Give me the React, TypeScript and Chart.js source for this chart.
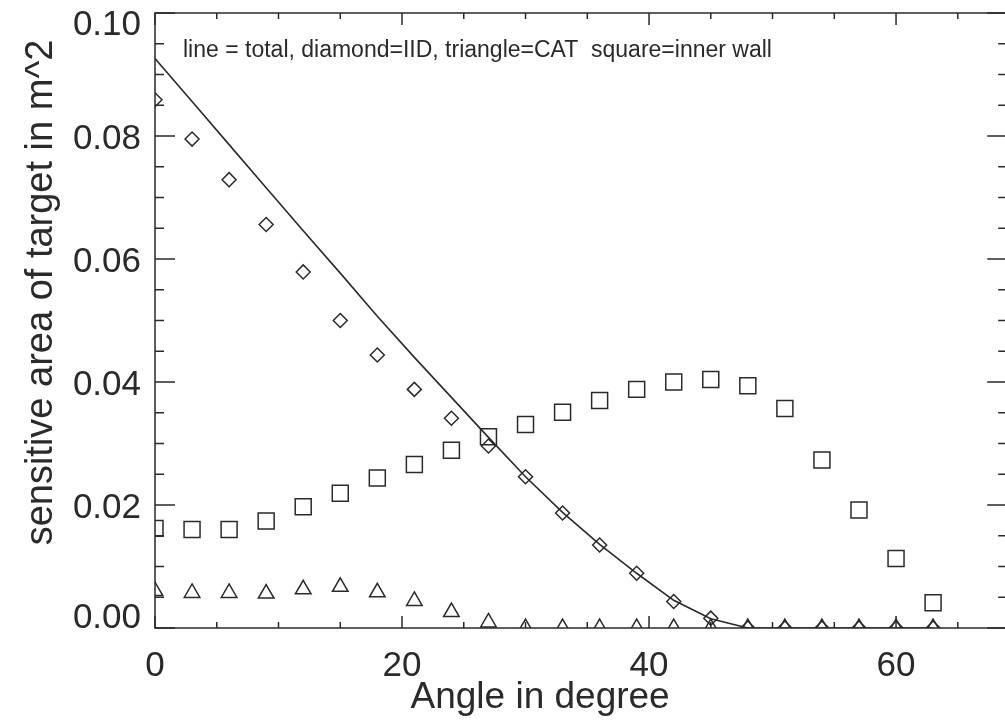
import React, { useEffect, useRef } from 'react';
import { Chart, registerables } from 'chart.js';

Chart.register(...registerables);

// ---------- data ----------
const angles = [0, 3, 6, 9, 12, 15, 18, 21, 24, 27, 30, 33, 36, 39, 42, 45, 48, 51, 54, 57, 60, 63];
const totalLine = [0.0926, 0.0856, 0.0786, 0.0716, 0.0646, 0.0577, 0.0507, 0.0440, 0.0375, 0.0310, 0.0246, 0.0188, 0.0136, 0.0089, 0.0045, 0.0015, 0, 0, 0, 0, 0, 0];
const iidDiamond = [0.0859, 0.0795, 0.0729, 0.0656, 0.0579, 0.0500, 0.0444, 0.0388, 0.0341, 0.0296, 0.0246, 0.0187, 0.0135, 0.0089, 0.0043, 0.0016, 0, 0, 0, 0, 0, 0];
const catTriangle = [0.0060, 0.0057, 0.0057, 0.0056, 0.0063, 0.0067, 0.0058, 0.0044, 0.0026, 0.0009, 0, 0, 0, 0, 0, 0, 0, 0, 0, 0, 0, 0];
const innerWallSquare = [0.0162, 0.0160, 0.0160, 0.0174, 0.0197, 0.0219, 0.0244, 0.0266, 0.0289, 0.0311, 0.0331, 0.0351, 0.0370, 0.0388, 0.0400, 0.0404, 0.0394, 0.0357, 0.0273, 0.0192, 0.0113, 0.0041];

const xMin = 0;
const xMax = 69;
const yMin = 0;
const yMax = 0.1;
const xTickLabels = [0, 20, 40, 60];
const yTickLabels = [0.0, 0.02, 0.04, 0.06, 0.08, 0.10];
const xMinorStep = 5;
const yMinorStep = 0.005;

const xTitle = 'Angle in degree';
const yTitle = 'sensitive area of target in m^2';
const noteText = 'line = total, diamond=IID, triangle=CAT  square=inner wall';

// ---------- styling ----------
const INK = '#2a2a2a';
const FONT = '"Liberation Sans", Arial, Helvetica, sans-serif';

const toPoints = (ys: number[]) => angles.map((a, i) => ({ x: a, y: ys[i] }));

const axesPlugin = {
  id: 'idlAxes',
  beforeDraw(chart: any) {
    const { ctx } = chart;
    ctx.save();
    ctx.fillStyle = '#ffffff';
    ctx.fillRect(0, 0, chart.width, chart.height);
    ctx.restore();
  },
  afterDraw(chart: any) {
    const { ctx, chartArea } = chart;
    const { left, right, top, bottom } = chartArea;
    const xs = chart.scales.x;
    const ys = chart.scales.y;
    ctx.save();
    ctx.strokeStyle = INK;
    ctx.fillStyle = INK;
    ctx.lineWidth = 1.5;
    ctx.strokeRect(left, top, right - left, bottom - top);

    // x ticks (bottom + top), inward
    const nx = Math.round((xMax - xMin) / xMinorStep);
    for (let i = 0; i <= nx; i++) {
      const v = xMin + i * xMinorStep;
      const px = xs.getPixelForValue(v);
      const major = xTickLabels.includes(v);
      const len = major ? 12 : 6;
      ctx.beginPath();
      ctx.moveTo(px, bottom);
      ctx.lineTo(px, bottom - len);
      ctx.moveTo(px, top);
      ctx.lineTo(px, top + len);
      ctx.stroke();
    }
    // y ticks (left + right), inward
    const ny = Math.round((yMax - yMin) / yMinorStep);
    for (let i = 0; i <= ny; i++) {
      const v = yMin + i * yMinorStep;
      const py = ys.getPixelForValue(v);
      const major = i % 4 === 0;
      const len = major ? 20 : 9;
      ctx.beginPath();
      ctx.moveTo(left, py);
      ctx.lineTo(left + len, py);
      ctx.moveTo(right, py);
      ctx.lineTo(right - len, py);
      ctx.stroke();
    }

    // x tick labels
    ctx.font = `35px ${FONT}`;
    ctx.textAlign = 'center';
    ctx.textBaseline = 'alphabetic';
    xTickLabels.forEach((v) => {
      ctx.fillText(String(v), xs.getPixelForValue(v), bottom + 48);
    });

    // y tick labels
    const cap = 25;
    ctx.textAlign = 'right';
    yTickLabels.forEach((v) => {
      const py = ys.getPixelForValue(v);
      const base = Math.min(Math.max(py + cap / 2, top + cap - 3), bottom);
      ctx.fillText(v.toFixed(2), left - 14, base);
    });

    // x title
    ctx.font = `37px ${FONT}`;
    ctx.textAlign = 'center';
    ctx.fillText(xTitle, (left + right) / 2 - 41, bottom + 80);

    // y title
    ctx.save();
    ctx.font = `38px ${FONT}`;
    ctx.translate(52, (top + bottom) / 2 - 28);
    ctx.rotate(-Math.PI / 2);
    ctx.textAlign = 'center';
    ctx.fillText(yTitle, 0, 0);
    ctx.restore();

    // annotation text inside plot
    ctx.font = `23px ${FONT}`;
    ctx.textAlign = 'left';
    ctx.fillText(noteText, left + 28, top + 44);

    ctx.restore();
  },
};

export default function App() {
  const canvasRef = useRef<HTMLCanvasElement | null>(null);

  useEffect(() => {
    document.body.style.margin = '0';
    const canvas = canvasRef.current;
    if (!canvas) return;
    const markerCommon = {
      showLine: false,
      borderColor: INK,
      backgroundColor: 'rgba(0,0,0,0)',
      pointBackgroundColor: 'rgba(0,0,0,0)',
      pointBorderColor: INK,
      pointBorderWidth: 1.5,
      clip: 0,
    };
    const chart = new Chart(canvas, {
      type: 'scatter',
      data: {
        datasets: [
          {
            label: 'total',
            data: toPoints(totalLine),
            showLine: true,
            borderColor: INK,
            borderWidth: 1.6,
            pointRadius: 0,
            tension: 0,
            fill: false,
            clip: 0,
          },
          {
            label: 'IID',
            data: toPoints(iidDiamond),
            pointStyle: 'rectRot',
            pointRadius: 7,
            ...markerCommon,
          },
          {
            label: 'CAT',
            data: toPoints(catTriangle),
            pointStyle: 'triangle',
            pointRadius: 9,
            ...markerCommon,
          },
          {
            label: 'inner wall',
            data: toPoints(innerWallSquare),
            pointStyle: 'rect',
            pointRadius: 11.3,
            ...markerCommon,
          },
        ],
      } as any,
      options: {
        animation: false,
        responsive: false,
        devicePixelRatio: 1,
        events: [],
        layout: { padding: { left: 155, right: 9, top: 13, bottom: 95 } },
        plugins: {
          legend: { display: false },
          tooltip: { enabled: false },
          title: { display: false },
        },
        scales: {
          x: { type: 'linear', min: xMin, max: xMax, display: false },
          y: { type: 'linear', min: yMin, max: yMax, display: false },
        },
      } as any,
      plugins: [axesPlugin],
    });
    return () => chart.destroy();
  }, []);

  return (
    <div style={{ width: 1005, height: 723, overflow: 'hidden', position: 'relative', background: '#fff' }}>
      <canvas ref={canvasRef} width={1020} height={723} style={{ display: 'block' }} />
    </div>
  );
}
